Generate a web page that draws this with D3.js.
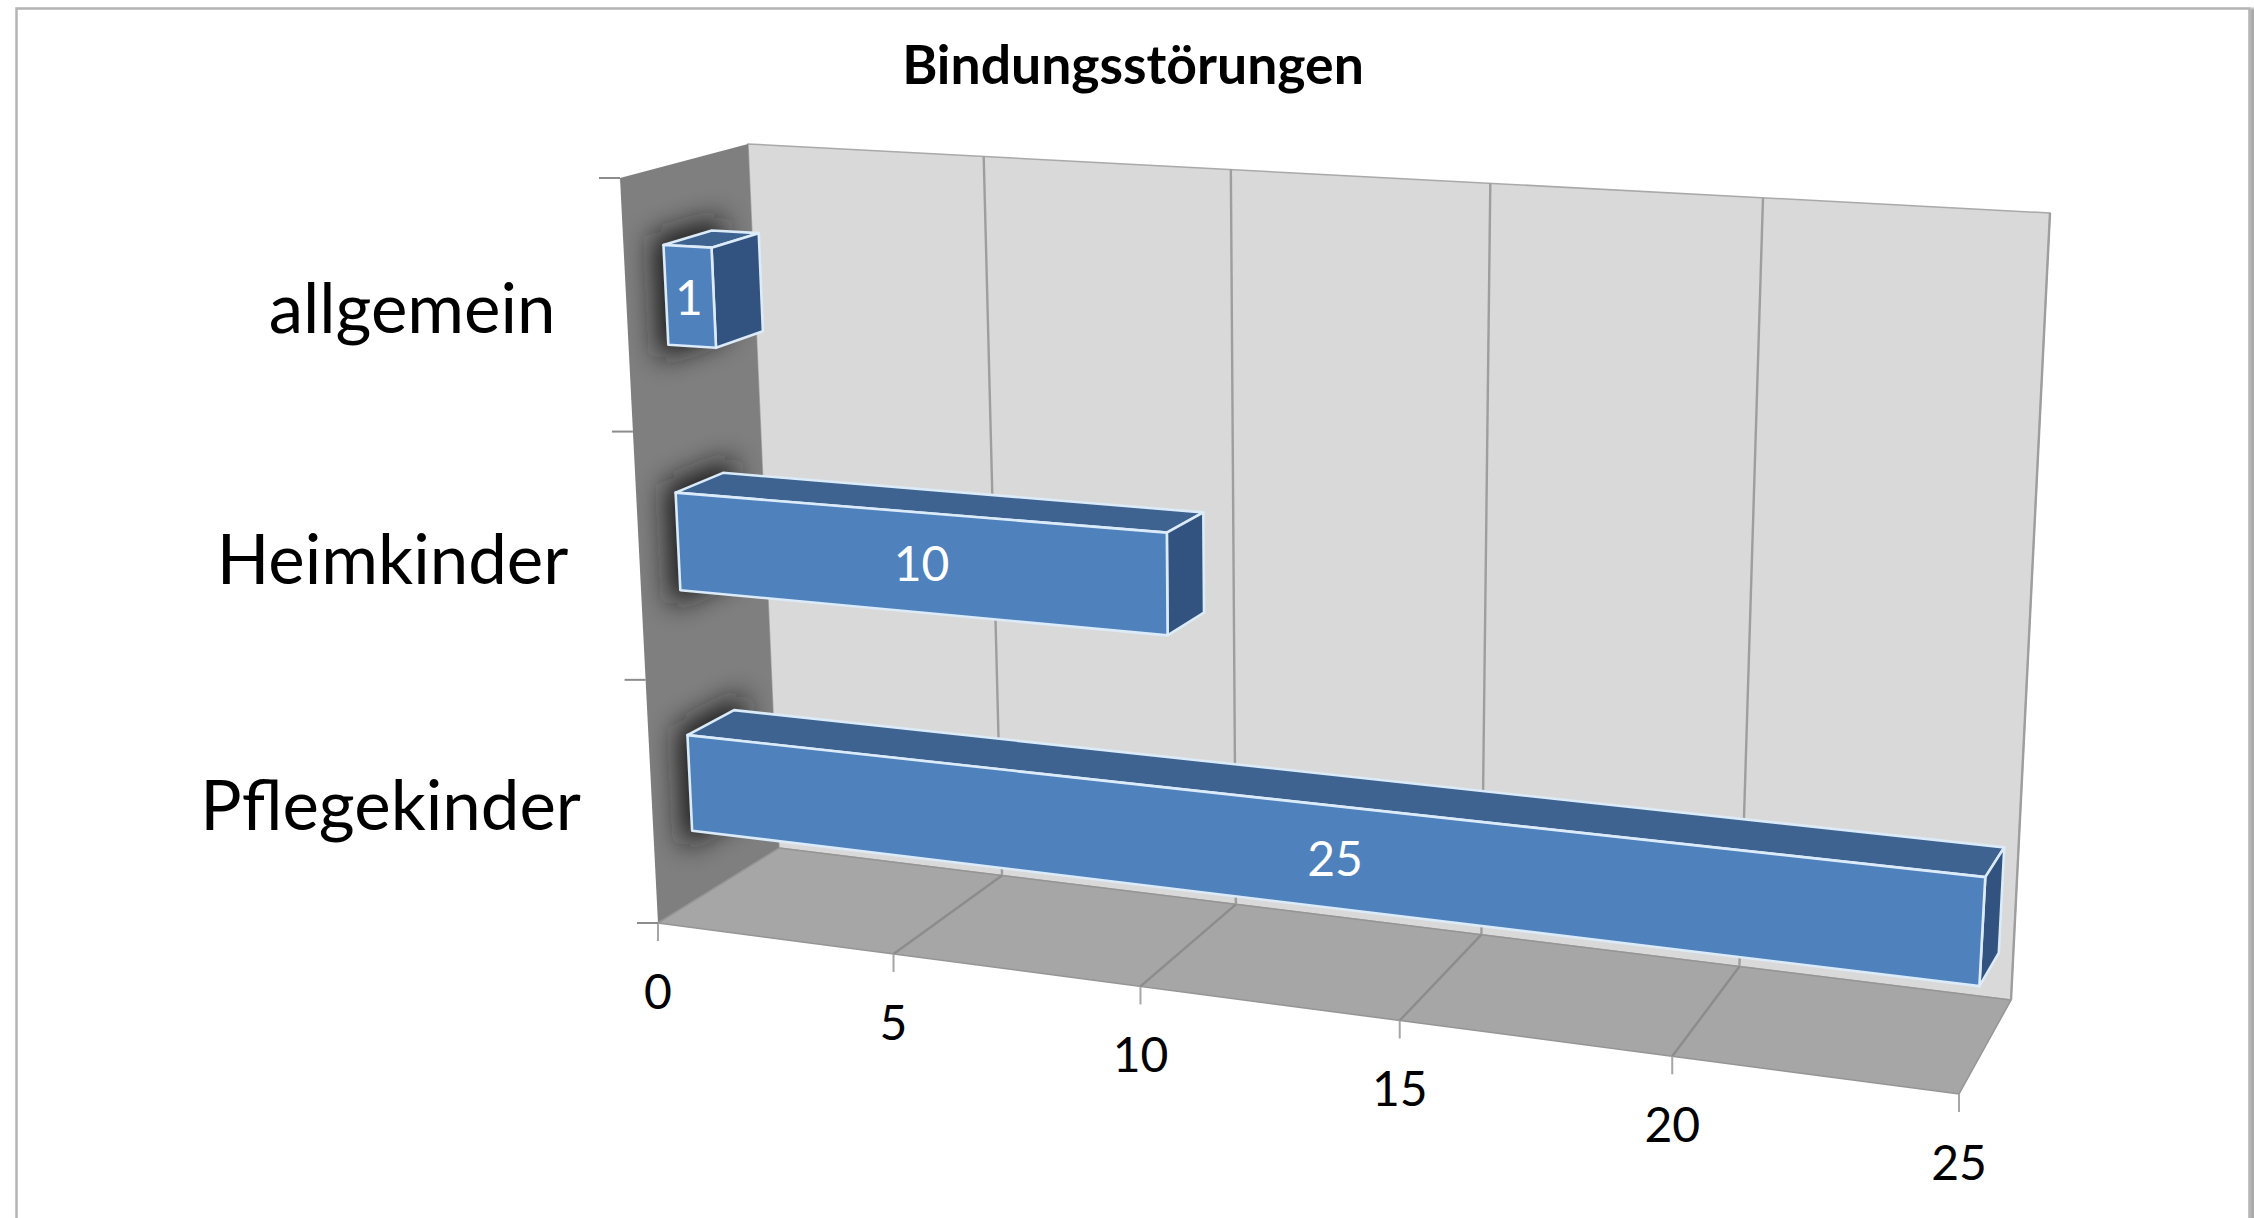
<!DOCTYPE html>
<html lang="de">
<head>
<meta charset="utf-8">
<title>Bindungsstörungen</title>
<script src="https://cdn.jsdelivr.net/npm/d3@7"></script>
<style>
  html, body { margin: 0; padding: 0; background: #fff; }
  svg { display: block; }
  text { font-family: Lato, "Open Sans", sans-serif; }
</style>
</head>
<body>
<svg id="chart" width="2254" height="1218"></svg>
<script>
// Chart data
const chartTitle = "Bindungsstörungen";
const categories = ["Pflegekinder", "Heimkinder", "allgemein"];
const values = [25, 10, 1];
const valueTicks = [0, 5, 10, 15, 20, 25];

// The eight screen corners of the 3D plot box: front/back, bottom/top, left/right
const box = {
  fbl: [658, 923], ftl: [620, 178], bbl: [779, 848], btl: [748, 144],
  fbr: [1959, 1094], ftr: [2007, 237], bbr: [2011, 1000], btr: [2050, 213]
};
const valuePerspective = 1.131;
const heightPerspective = 1.032;
const barDepth = [0.31, 0.69];

const svg = d3.select("#chart");
const defs = svg.append("defs");

const uScale = d3.scaleLinear().domain([0, 25]).range([0, 1]);
const hScale = d3.scaleBand().domain(categories).range([-0.003, 0.997])
  .paddingInner(0.6).paddingOuter(0.3);

const foreshorten = (t, k) => t / (t + k * (1 - t));
const mix = (a, b, t) => [a[0] + (b[0] - a[0]) * t, a[1] + (b[1] - a[1]) * t];

// Map a value, a height (0–1) and a depth (0 front – 1 back) to the screen
function project(value, h, d) {
  const hs = foreshorten(h, heightPerspective);
  const left = mix(mix(box.fbl, box.ftl, hs), mix(box.bbl, box.btl, hs), d);
  const right = mix(mix(box.fbr, box.ftr, hs), mix(box.bbr, box.btr, hs), d);
  return mix(left, right, foreshorten(uScale(value), valuePerspective));
}
const poly = d3.line().curve(d3.curveLinearClosed);

// Outer frame and its soft right edge
defs.append("filter").attr("id", "soft").attr("x", "-50%").attr("width", "200%")
  .append("feGaussianBlur").attr("stdDeviation", 1.2);
svg.append("rect").attr("x", 2250).attr("y", 8).attr("width", 6).attr("height", 1212)
  .attr("fill", "#a8a8a8").attr("filter", "url(#soft)");
svg.append("path").attr("d", "M16.5,1220V8.5H2249.5V1220")
  .attr("fill", "none").attr("stroke", "#b4b4b4").attr("stroke-width", 2.5);

// Walls and floor
const walls = svg.append("g");
walls.append("path").attr("d", poly([box.btl, box.btr, box.bbr, box.bbl]))
  .attr("fill", "#d9d9d9").attr("stroke", "#a9a9a9").attr("stroke-width", 1.5);
walls.append("path").attr("d", poly([box.ftl, box.btl, box.bbl, box.fbl])).attr("fill", "#7f7f7f");
walls.append("path").attr("d", poly([box.fbl, box.bbl, box.bbr, box.fbr]))
  .attr("fill", "#a6a6a6").attr("stroke", "#959595").attr("stroke-width", 1.5);

// Gridlines running up the back wall and across the floor
const grid = svg.append("g").attr("fill", "none").attr("stroke-width", 2.4);
grid.selectAll("path.wall").data(valueTicks.slice(1)).join("path").attr("class", "wall")
  .attr("stroke", "#9e9e9e")
  .attr("d", v => d3.line()([project(v, 0, 1), project(v, 1, 1)]));
grid.selectAll("path.floor").data(valueTicks.slice(1, -1)).join("path").attr("class", "floor")
  .attr("stroke", "#8c8c8c")
  .attr("d", v => d3.line()([project(v, 0, 0), project(v, 0, 1)]));

// Value axis ticks and labels along the front edge of the floor
const valueAxis = svg.append("g");
valueAxis.selectAll("path").data(valueTicks).join("path")
  .attr("fill", "none").attr("stroke", "#a6a6a6").attr("stroke-width", 2)
  .attr("d", v => { const [x, y] = project(v, 0, 0); return `M${x},${y}v18`; });
valueAxis.selectAll("text").data(valueTicks).join("text")
  .attr("text-anchor", "middle").attr("font-size", 48).attr("fill", "#000")
  .attr("x", v => project(v, 0, 0)[0])
  .attr("y", v => project(v, 0, 0)[1] + 86)
  .text(v => v);

// Category axis ticks and labels along the front edge of the side wall
const categoryAxis = svg.append("g");
categoryAxis.selectAll("path").data([0, 1 / 3, 2 / 3, 1]).join("path")
  .attr("fill", "none").attr("stroke", "#8c8c8c").attr("stroke-width", 2)
  .attr("d", h => { const [x, y] = project(0, h, 0); return `M${x},${y}h-21`; });
categoryAxis.selectAll("text").data(categories).join("text")
  .attr("text-anchor", "end").attr("font-size", 69).attr("fill", "#000")
  .attr("dominant-baseline", "central")
  .attr("x", c => project(0, hScale(c) + hScale.bandwidth() / 2, 0)[0] - 71)
  .attr("y", c => project(0, hScale(c) + hScale.bandwidth() / 2, 0)[1] - 1)
  .text(c => c);

// Cast shadows of the bar ends, visible on the side wall only
defs.append("clipPath").attr("id", "side-wall").append("path")
  .attr("d", poly([box.ftl, box.btl, box.bbl, box.fbl]));
defs.append("filter").attr("id", "shadow-blur")
  .attr("filterUnits", "userSpaceOnUse")
  .attr("x", 540).attr("y", 100).attr("width", 360).attr("height", 940)
  .append("feGaussianBlur").attr("stdDeviation", 14);

const rows = categories.map((c, i) => {
  const lo = hScale(c), hi = lo + hScale.bandwidth(), [df, db] = barDepth, v = values[i];
  return {
    category: c, value: v,
    front: [project(0, hi, df), project(v, hi, df), project(v, lo, df), project(0, lo, df)],
    top: [project(0, hi, df), project(0, hi, db), project(v, hi, db), project(v, hi, df)],
    side: [project(v, hi, df), project(v, hi, db), project(v, lo, db), project(v, lo, df)],
    end: [project(0, hi, df), project(0, hi, db), project(0, lo, db), project(0, lo, df)]
  };
});

svg.append("g").attr("clip-path", "url(#side-wall)")
  .selectAll("path").data(rows).join("path")
  .attr("d", r => poly(r.end)).attr("fill", "#161616").attr("opacity", 0.9)
  .attr("stroke", "#161616").attr("stroke-width", 22)
  .attr("filter", "url(#shadow-blur)");

// Bars with their visible faces
const bars = svg.append("g").selectAll("g").data(rows).join("g")
  .attr("stroke", "#dcebf9").attr("stroke-width", 2.6).attr("stroke-linejoin", "round");
bars.append("path").attr("d", r => poly(r.top)).attr("fill", "#3e6390");
bars.append("path").attr("d", r => poly(r.side)).attr("fill", "#325380");
bars.append("path").attr("d", r => poly(r.front)).attr("fill", "#4f81bd");

// Data labels in the middle of each front face
svg.append("g").selectAll("text").data(rows).join("text")
  .attr("text-anchor", "middle").attr("dominant-baseline", "central")
  .attr("font-size", 48).attr("fill", "#fff")
  .attr("x", r => d3.mean(r.front, p => p[0]) - 1)
  .attr("y", r => d3.mean(r.front, p => p[1]))
  .text(r => r.value);

// Title
svg.append("text").attr("x", 1133).attr("y", 84).attr("text-anchor", "middle")
  .attr("font-size", 53.5).attr("font-weight", 700).attr("fill", "#000").text(chartTitle);
</script>
</body>
</html>
